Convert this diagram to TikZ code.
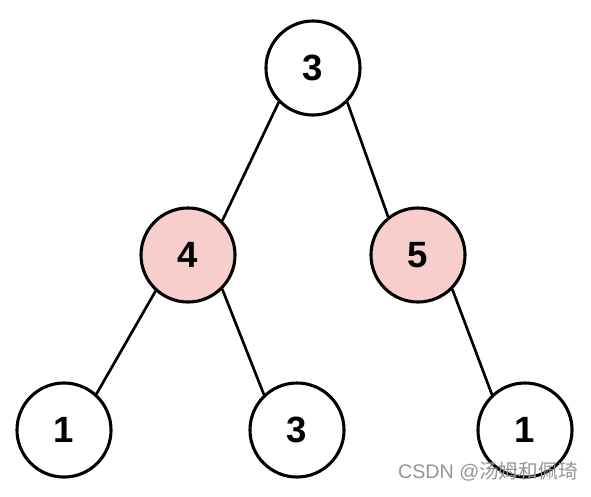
\documentclass[tikz,border=0pt]{standalone}
\usepackage{fontspec}
\setmainfont{Liberation Sans}
\newfontfamily\cjk{Noto Sans CJK SC}
\definecolor{nodepink}{HTML}{F8CECC}
\begin{document}
\begin{tikzpicture}[x=0.025cm, y=-0.025cm, line join=round, line cap=round,
		treenode/.style={circle, draw, line width=2.2pt, fill=white, minimum size=2.35cm, inner sep=0pt, font=\fontsize{26}{30}\selectfont\bfseries},
		marked/.style={treenode, fill=nodepink},
		branch/.style={line width=1.9pt}]
	\useasboundingbox (0,0) rectangle (591,496);
	
	% Các nút của cây
	\node[treenode] (r)  at (313,68)  {3};
	\node[marked]   (a)  at (188,255) {4};
	\node[marked]   (b)  at (418,255) {5};
	\node[treenode] (c)  at (64,430)  {1};
	\node[treenode] (d)  at (297,430) {3};
	\node[treenode] (e)  at (525,430) {1};
	
	% Các cạnh
	\draw[branch] (r.225) -- (a.45);
	\draw[branch] (r.-45) -- (b.128);
	\draw[branch] (a.228) -- (c.48);
	\draw[branch] (a.-45) -- (d.133);
	\draw[branch] (b.-45) -- (e.133);
	
	% Chữ ký
	\node[anchor=east, inner sep=0pt, text=black!42, font=\fontsize{14}{16}\selectfont] (wm) at (578,472) {CSDN @{\cjk 汤姆和佩琦}};
\end{tikzpicture}
\end{document}
